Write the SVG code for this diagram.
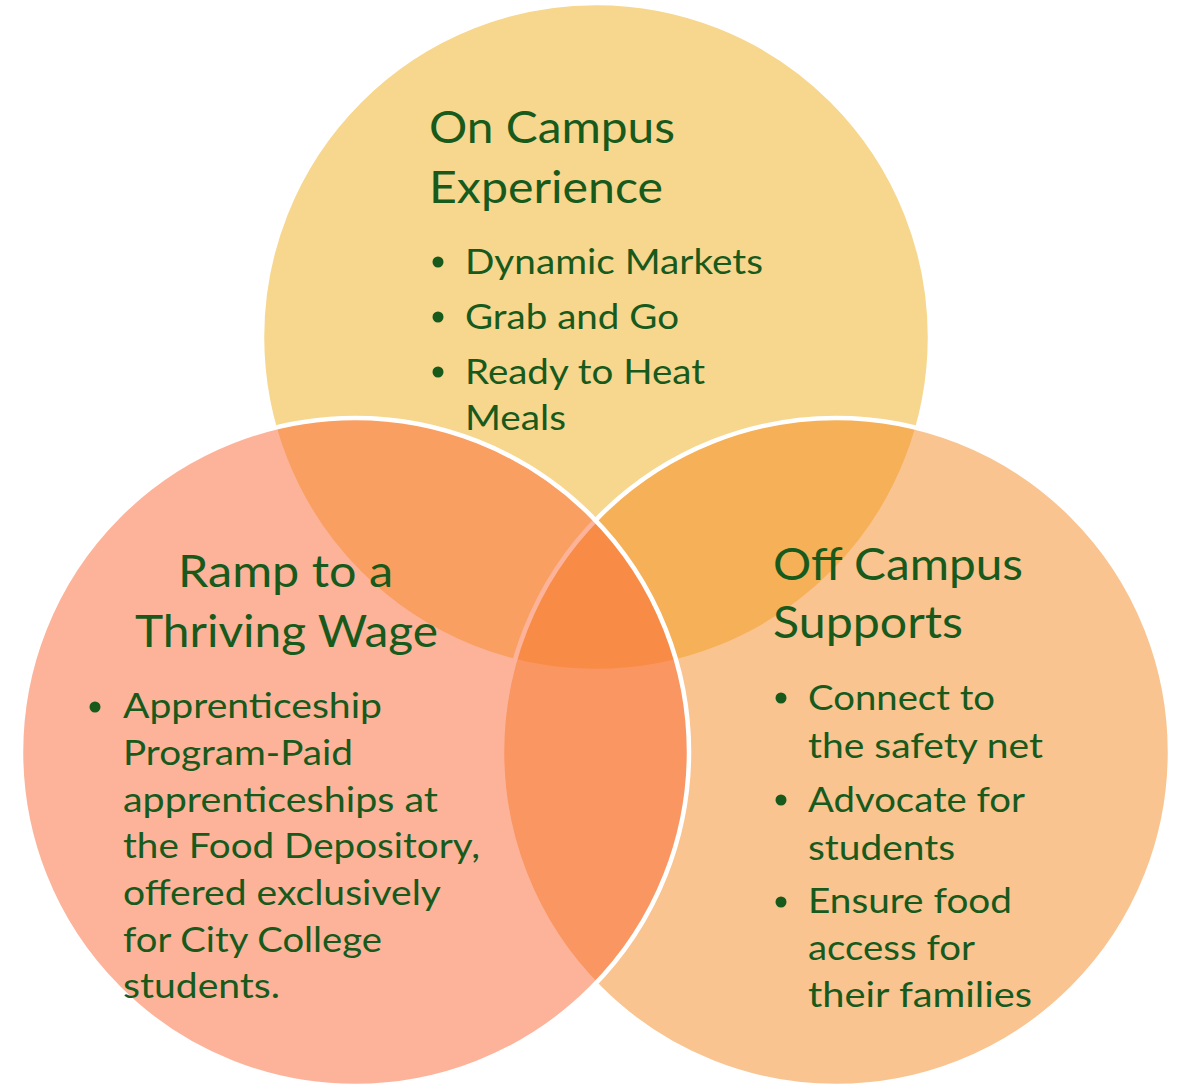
<svg xmlns="http://www.w3.org/2000/svg" width="1179" height="1085" viewBox="0 0 1179 1085">
<style>
.c{fill-opacity:0.5;stroke:#ffffff;stroke-width:4.5}
.h{font-family:Lato,"Noto Sans",sans-serif;font-size:44px;fill:#175A1C}
.b{font-family:Lato,"Noto Sans",sans-serif;font-size:34px;fill:#175A1C}
.d{fill:#175A1C}
</style>
<rect width="1179" height="1085" fill="#ffffff"/>
<g id="node-top">
<circle class="c" cx="596" cy="337" r="334" fill="#EFAD1D"/>
<text class="h" x="429" y="143" textLength="246" lengthAdjust="spacingAndGlyphs">On Campus</text>
<text class="h" x="429" y="203" textLength="234" lengthAdjust="spacingAndGlyphs">Experience</text>
<circle class="d" cx="438" cy="262" r="5.5"/>
<text class="b" x="465" y="274" textLength="298" lengthAdjust="spacingAndGlyphs">Dynamic Markets</text>
<circle class="d" cx="438" cy="317" r="5.5"/>
<text class="b" x="465" y="329" textLength="214" lengthAdjust="spacingAndGlyphs">Grab and Go</text>
<circle class="d" cx="438" cy="372" r="5.5"/>
<text class="b" x="465" y="384" textLength="240" lengthAdjust="spacingAndGlyphs">Ready to Heat</text>
<text class="b" x="465" y="430" textLength="101" lengthAdjust="spacingAndGlyphs">Meals</text>
</g>
<g id="node-right">
<circle class="c" cx="836" cy="752" r="334" fill="#F38921"/>
<text class="h" x="773" y="580" textLength="250" lengthAdjust="spacingAndGlyphs">Off Campus</text>
<text class="h" x="773" y="638" textLength="190" lengthAdjust="spacingAndGlyphs">Supports</text>
<circle class="d" cx="781" cy="698" r="5.5"/>
<text class="b" x="808" y="710" textLength="187" lengthAdjust="spacingAndGlyphs">Connect to</text>
<text class="b" x="808" y="758" textLength="235" lengthAdjust="spacingAndGlyphs">the safety net</text>
<circle class="d" cx="781" cy="800" r="5.5"/>
<text class="b" x="808" y="812" textLength="217" lengthAdjust="spacingAndGlyphs">Advocate for</text>
<text class="b" x="808" y="860" textLength="147" lengthAdjust="spacingAndGlyphs">students</text>
<circle class="d" cx="781" cy="902" r="5.5"/>
<text class="b" x="808" y="913" textLength="204" lengthAdjust="spacingAndGlyphs">Ensure food</text>
<text class="b" x="808" y="960" textLength="167" lengthAdjust="spacingAndGlyphs">access for</text>
<text class="b" x="808" y="1007" textLength="224" lengthAdjust="spacingAndGlyphs">their families</text>
</g>
<g id="node-left">
<circle class="c" cx="355" cy="752" r="334" fill="#FB6733"/>
<text class="h" x="178" y="587" textLength="215" lengthAdjust="spacingAndGlyphs">Ramp to a</text>
<text class="h" x="135" y="647" textLength="303" lengthAdjust="spacingAndGlyphs">Thriving Wage</text>
<circle class="d" cx="95" cy="707" r="5.5"/>
<text class="b" x="123" y="718" textLength="259" lengthAdjust="spacingAndGlyphs">Apprenticeship</text>
<text class="b" x="123" y="765" textLength="230" lengthAdjust="spacingAndGlyphs">Program-Paid</text>
<text class="b" x="123" y="812" textLength="315" lengthAdjust="spacingAndGlyphs">apprenticeships at</text>
<text class="b" x="123" y="858" textLength="357" lengthAdjust="spacingAndGlyphs">the Food Depository,</text>
<text class="b" x="123" y="905" textLength="318" lengthAdjust="spacingAndGlyphs">offered exclusively</text>
<text class="b" x="123" y="952" textLength="259" lengthAdjust="spacingAndGlyphs">for City College</text>
<text class="b" x="123" y="998" textLength="157" lengthAdjust="spacingAndGlyphs">students.</text>
</g>
</svg>
